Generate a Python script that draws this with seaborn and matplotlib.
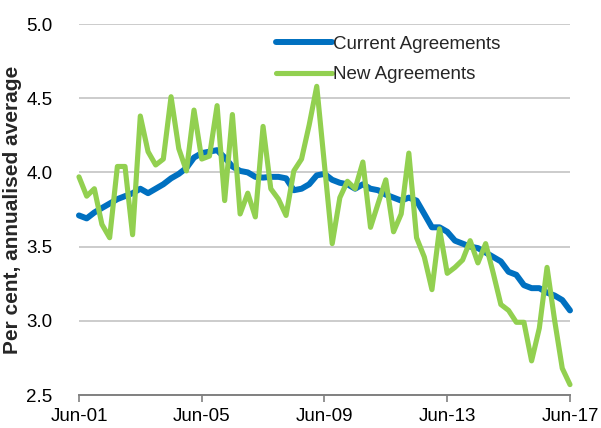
import pandas as pd
import numpy as np
import matplotlib
matplotlib.use('Agg')
import matplotlib.pyplot as plt
import seaborn as sns

# Quarterly data, Jun-01 to Jun-17
quarters = pd.date_range('2001-06-01', '2017-06-01', freq='3MS')

current = [3.71, 3.69, 3.73, 3.76, 3.79, 3.82, 3.84, 3.86, 3.89, 3.86,
           3.89, 3.92, 3.96, 3.99, 4.03, 4.10, 4.13, 4.14, 4.15, 4.10,
           4.04, 4.01, 4.00, 3.97, 3.965, 3.97, 3.97, 3.96, 3.88, 3.89,
           3.92, 3.98, 3.99, 3.95, 3.93, 3.92, 3.89, 3.92, 3.89, 3.88,
           3.85, 3.83, 3.81, 3.83, 3.81, 3.72, 3.63, 3.63, 3.60, 3.54,
           3.52, 3.50, 3.49, 3.46, 3.43, 3.40, 3.33, 3.31, 3.24, 3.22,
           3.22, 3.19, 3.17, 3.14, 3.07]

new = [3.97, 3.84, 3.89, 3.65, 3.56, 4.04, 4.04, 3.58, 4.38, 4.14,
       4.05, 4.09, 4.51, 4.16, 4.01, 4.42, 4.09, 4.11, 4.45, 3.81,
       4.39, 3.72, 3.86, 3.70, 4.31, 3.89, 3.82, 3.71, 4.01, 4.09,
       4.32, 4.58, 4.05, 3.52, 3.83, 3.94, 3.89, 4.07, 3.63, 3.79,
       3.95, 3.60, 3.72, 4.13, 3.56, 3.43, 3.21, 3.62, 3.32, 3.36,
       3.41, 3.54, 3.39, 3.52, 3.32, 3.11, 3.07, 2.99, 2.99, 2.73,
       2.95, 3.36, 3.00, 2.68, 2.57]

series_names = ['Current Agreements', 'New Agreements']
tick_dates = pd.to_datetime(['2001-06-01', '2005-06-01', '2009-06-01',
                             '2013-06-01', '2017-06-01'])
tick_labels = ['Jun-01', 'Jun-05', 'Jun-09', 'Jun-13', 'Jun-17']
y_ticks = [2.5, 3.0, 3.5, 4.0, 4.5, 5.0]

df = pd.DataFrame({
    'date': list(quarters) * 2,
    'value': current + new,
    'series': [series_names[0]] * len(current) + [series_names[1]] * len(new),
})

sns.set_theme(style='white')
plt.rcParams['font.family'] = ['Liberation Sans', 'DejaVu Sans']

fig = plt.figure(figsize=(6.01, 4.28), dpi=100)
ax = fig.add_axes([0.1314, 0.0771, 0.8170, 0.8668])

sns.lineplot(data=df, x='date', y='value', hue='series', hue_order=series_names,
             palette=['#0070C0', '#92D050'], ax=ax, legend=True)
for line, lw in zip(ax.lines, [4.3, 3.7]):
    line.set_linewidth(lw)
    line.set_clip_on(False)
    line.set_solid_capstyle('round')
    line.set_solid_joinstyle('round')

ax.set_xlim(tick_dates[0], tick_dates[-1])
ax.set_ylim(2.5, 5.0)
ax.set_yticks(y_ticks)
ax.set_yticklabels([f'{v:.1f}' for v in y_ticks])
ax.set_xticks(tick_dates)
ax.set_xticklabels(tick_labels)

ax.yaxis.grid(True, color='#BFBFBF', linewidth=1.1)
ax.set_axisbelow(True)
for s in ['top', 'right', 'left']:
    ax.spines[s].set_visible(False)
ax.spines['bottom'].set_color('#808080')
ax.spines['bottom'].set_linewidth(1.4)
ax.tick_params(axis='x', bottom=True, direction='out', length=5, width=1.2,
               color='#808080', labelsize=13.5, pad=4, labelcolor='black')
ax.tick_params(axis='y', left=False, labelsize=13.5, pad=13, labelcolor='black')

ax.set_xlabel('')
ax.set_ylabel('Per cent, annualised average', fontsize=15, fontweight='bold',
              labelpad=3)

handles, labels = ax.get_legend_handles_labels()
leg = ax.legend(handles, labels, loc='upper left', bbox_to_anchor=(0.401, 0.968),
                frameon=False, fontsize=13.5, handlelength=3.0,
                handletextpad=0.05, labelspacing=0.7, borderpad=0,
                borderaxespad=0)
for h, lw in zip(leg.get_lines(), [4.3, 3.7]):
    h.set_linewidth(lw)
    h.set_solid_capstyle('round')

fig.savefig('out.png', dpi=100)
